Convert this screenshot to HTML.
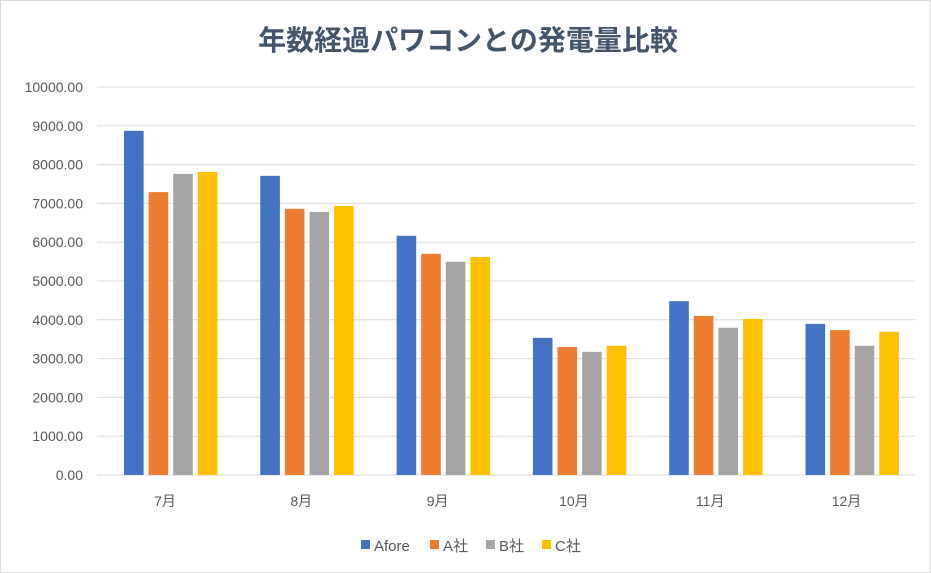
<!DOCTYPE html>
<html><head><meta charset="utf-8"><style>
html,body{margin:0;padding:0;background:#fff;}
svg{display:block;}
</style></head><body>
<svg width="931" height="573" xmlns="http://www.w3.org/2000/svg" font-family="'Liberation Sans','Noto Sans CJK JP',sans-serif">
<rect x="0.5" y="0.5" width="930" height="572" fill="#fff" stroke="#d9d9d9"/>
<text x="468" y="50" text-anchor="middle" font-size="28" font-weight="bold" fill="#44546a" font-family="'Noto Sans CJK JP',sans-serif">年数経過パワコンとの発電量比較</text>
<g id="grid"></g>
<g id="bars"></g>
<g id="lab"></g>
<g font-size="15" fill="#595959">
<rect x="361" y="540" width="9" height="9" fill="#4472c4"/><text x="374" y="551">Afore</text>
<rect x="430" y="540" width="9" height="9" fill="#ed7d31"/><text x="443" y="551">A社</text>
<rect x="486" y="540" width="9" height="9" fill="#a5a5a5"/><text x="499" y="551">B社</text>
<rect x="542" y="540" width="9" height="9" fill="#ffc000"/><text x="555" y="551">C社</text>
</g>
<script>
var ns="http://www.w3.org/2000/svg";
function el(t,a,p,txt){var e=document.createElementNS(ns,t);for(var k in a)e.setAttribute(k,a[k]);if(txt)e.textContent=txt;document.getElementById(p).appendChild(e);}
var y0=475,s=0.0388;
for(var i=0;i<=10;i++){var y=y0-i*1000*s;
el('line',{x1:97,x2:915,y1:y,y2:y,stroke:'#d9d9d9','stroke-width':1},'grid');
el('text',{x:83,y:y+5,'text-anchor':'end','font-size':14,fill:'#595959'},'lab',(i*1000).toFixed(2));}
var d=[[8870,7290,7760,7810],[7710,6860,6780,6935],[6165,5700,5495,5620],[3535,3300,3175,3330],[4480,4100,3795,4020],[3895,3735,3330,3690]];
var c=['#4472c4','#ed7d31','#a5a5a5','#ffc000'],m=['7月','8月','9月','10月','11月','12月'];
for(var g=0;g<6;g++){var cx=165+g*136.3;
for(var j=0;j<4;j++){var h=d[g][j]*s;el('rect',{x:cx-41+j*24.6,y:y0-h,width:19.6,height:h,fill:c[j]},'bars');}
el('text',{x:cx,y:506,'text-anchor':'middle','font-size':14,fill:'#595959'},'lab',m[g]);}
</script>
</svg>
</body></html>
